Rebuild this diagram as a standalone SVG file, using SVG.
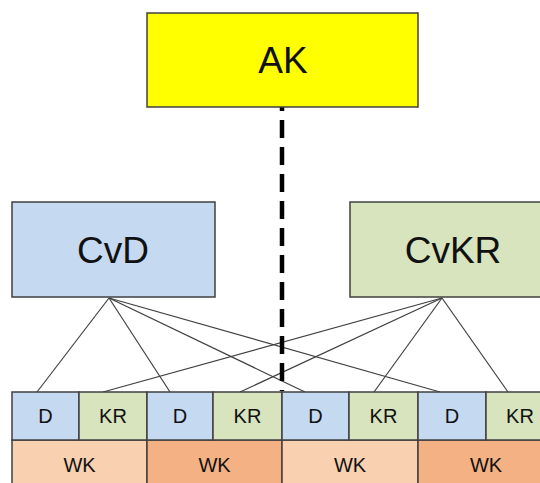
<svg xmlns="http://www.w3.org/2000/svg" width="540" height="483" viewBox="0 0 540 483">
<style>
.box{stroke:#404040;stroke-width:1.5}
.t{font-family:"Liberation Sans",Arial,sans-serif;fill:#111;text-anchor:middle}
.big{font-size:37px}
.sm{font-size:20px}
.ln{stroke:#404040;stroke-width:1.2;fill:none}
.d{fill:#C5D9F1}
.k{fill:#D7E4BD}
.w1{fill:#F9D0B0}
.w2{fill:#F4B183}
</style>
<rect width="540" height="483" fill="#fff"/>
<g id="connectors">
<line class="ln" x1="109" y1="298" x2="37" y2="392"/>
<line class="ln" x1="109" y1="298" x2="170" y2="392"/>
<line class="ln" x1="109" y1="298" x2="305" y2="392"/>
<line class="ln" x1="109" y1="298" x2="440" y2="392"/>
<line class="ln" x1="442" y1="298" x2="103" y2="392"/>
<line class="ln" x1="442" y1="298" x2="240" y2="392"/>
<line class="ln" x1="442" y1="298" x2="374" y2="392"/>
<line class="ln" x1="442" y1="298" x2="508" y2="392"/>
<line x1="282" y1="107" x2="282" y2="391" stroke="#000" stroke-width="4.5" stroke-dasharray="18 9" stroke-dashoffset="14"/>
</g>
<g id="AK">
<rect class="box" x="147" y="13" width="271" height="94" fill="#FFFF00"/>
<text class="t big" x="283" y="73">AK</text>
</g>
<g id="CvD">
<rect class="box" x="12" y="202" width="203" height="95" fill="#C5D9F1"/>
<text class="t big" x="113" y="263">CvD</text>
</g>
<g id="CvKR">
<rect class="box" x="350" y="202" width="210" height="95" fill="#D7E4BD"/>
<text class="t big" x="453" y="263">CvKR</text>
</g>
<g id="WK1"><rect class="box w1" x="12" y="440" width="135" height="50"/><text class="t sm" x="79.5" y="472">WK</text></g>
<g id="WK2"><rect class="box w2" x="147" y="440" width="135" height="50"/><text class="t sm" x="214.5" y="472">WK</text></g>
<g id="WK3"><rect class="box w1" x="282" y="440" width="136" height="50"/><text class="t sm" x="350" y="472">WK</text></g>
<g id="WK4"><rect class="box w2" x="418" y="440" width="135" height="50"/><text class="t sm" x="486" y="472">WK</text></g>
<g id="D1"><rect class="box d" x="12" y="392" width="67" height="48"/><text class="t sm" x="45.5" y="423">D</text></g>
<g id="KR1"><rect class="box k" x="79" y="392" width="68" height="48"/><text class="t sm" x="113" y="423">KR</text></g>
<g id="D2"><rect class="box d" x="147" y="392" width="66" height="48"/><text class="t sm" x="180" y="423">D</text></g>
<g id="KR2"><rect class="box k" x="213" y="392" width="69" height="48"/><text class="t sm" x="247.5" y="423">KR</text></g>
<g id="D3"><rect class="box d" x="282" y="392" width="67" height="48"/><text class="t sm" x="315.5" y="423">D</text></g>
<g id="KR3"><rect class="box k" x="349" y="392" width="69" height="48"/><text class="t sm" x="383.5" y="423">KR</text></g>
<g id="D4"><rect class="box d" x="418" y="392" width="68" height="48"/><text class="t sm" x="452" y="423">D</text></g>
<g id="KR4"><rect class="box k" x="486" y="392" width="70" height="48"/><text class="t sm" x="520" y="423">KR</text></g>
</svg>
